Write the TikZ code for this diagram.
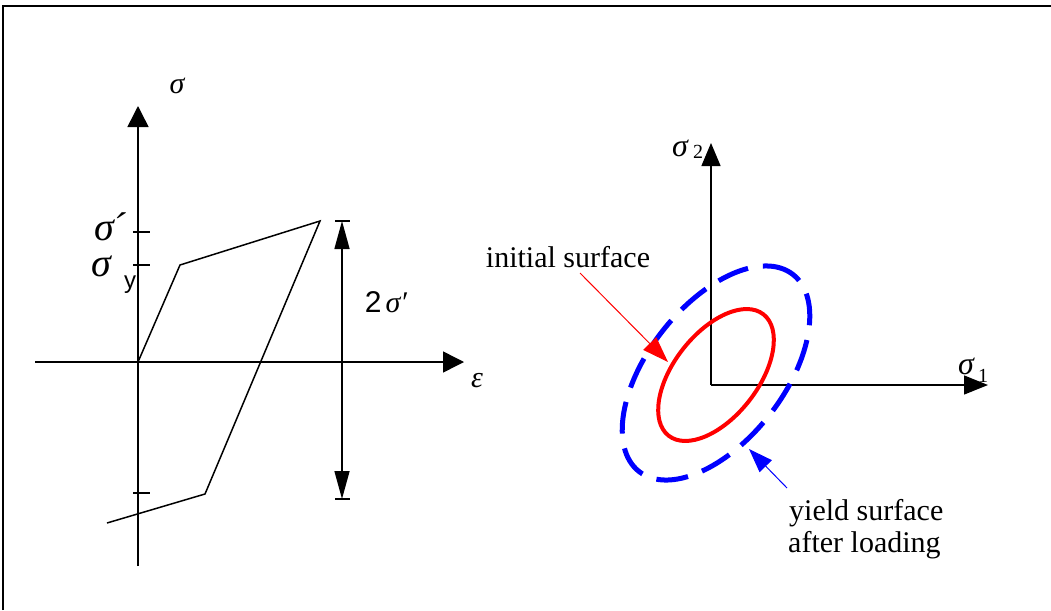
\documentclass[tikz,border=0pt]{standalone}
\usepackage{fontspec}
\setmainfont{Liberation Serif}
\newfontfamily\labsans{Liberation Sans}
\newfontfamily\grk{Liberation Serif}
\usetikzlibrary{arrows.meta}
\newcommand{\gs}{{\grk\itshape σ}}
\begin{document}
\begin{tikzpicture}[x=1pt,y=-1pt,
  axisline/.style={line width=1.5pt,-{Triangle[length=21pt,width=21pt]}},
  thinline/.style={line width=1.5pt},
  dimarrow/.style={line width=1.5pt,{Triangle[length=28pt,width=15pt]}-{Triangle[length=28pt,width=15pt]}},
  lbl/.style={inner sep=0pt},
  txt/.style={inner sep=0pt,font=\fontsize{30}{32}\selectfont},
  redell/.style={draw=red,line width=4pt},
  blueell/.style={draw=blue,line width=5pt,dash pattern=on 32pt off 15pt},
]
\useasboundingbox (0,0) rectangle (1051,610);
% frame
\coordinate (fa) at (3,610); \coordinate (fb) at (3,6); \coordinate (fc) at (1051,6);
\draw[line width=1.5pt] (fa) -- (fb) -- (fc);

% ---------- left diagram ----------
\coordinate (O) at (138,362);
\coordinate (sbot) at (138,566);
\coordinate (stop) at (138,106);
\coordinate (eleft) at (35,362);
\coordinate (eright) at (464,362);
\draw[axisline] (sbot) -- (stop);
\draw[axisline] (eleft) -- (eright);
% ticks
\coordinate (t1a) at (133,232); \coordinate (t1b) at (150,232);
\coordinate (t2a) at (133,265); \coordinate (t2b) at (150,265);
\coordinate (t3a) at (133,493); \coordinate (t3b) at (150,493);
\draw[thinline] (t1a) -- (t1b);
\draw[thinline] (t2a) -- (t2b);
\draw[thinline] (t3a) -- (t3b);
% hysteresis path
\coordinate (h1) at (180,265);
\coordinate (h2) at (320,221);
\coordinate (h3) at (205,494);
\coordinate (h4) at (107,523);
\draw[thinline,line join=miter] (O) -- (h1) -- (h2) -- (h3) -- (h4);
% double arrow 2 sigma'
\coordinate (da) at (342,221);
\coordinate (db) at (342,499);
\coordinate (ba1) at (335,221); \coordinate (ba2) at (350,221);
\coordinate (bb1) at (335,499); \coordinate (bb2) at (350,499);
\draw[thinline] (ba1) -- (ba2);
\draw[thinline] (bb1) -- (bb2);
\draw[dimarrow] (da) -- (db);
% labels
\node[lbl,font=\fontsize{30}{32}\selectfont] (lsig) at (177,86) {\gs};
\node[lbl,font=\fontsize{40}{42}\selectfont,anchor=base] (lsigp) at (110,240) {\gs\kern-2pt{\grk\itshape ´}};
\node[lbl,font=\fontsize{40}{42}\selectfont,anchor=base] (lsigy) at (101,276) {\gs};
\node[lbl,font=\labsans\fontsize{24}{26}\selectfont,anchor=base] (lsuby) at (130,288) {y};
\node[lbl,font=\fontsize{30}{32}\selectfont,anchor=base] (ltwo) at (386,312) {{\labsans 2}\kern4pt\gs{\grk\itshape ′}};
\node[lbl,font=\grk\itshape\fontsize{30}{32}\selectfont,anchor=base] (leps) at (477,387) {ε};

% ---------- right diagram ----------
\coordinate (O2) at (711,385);
\coordinate (s2top) at (711,143);
\coordinate (s1right) at (988,385);
\draw[line width=1.3pt,-{Triangle[length=23pt,width=19pt]}] (O2) -- (s2top);
\draw[line width=1.3pt,-{Triangle[length=24pt,width=19pt]}] (O2) -- (s1right);
\node[lbl,font=\fontsize{32}{34}\selectfont,anchor=base] (ls2) at (680,156) {\gs};
\node[lbl,font=\fontsize{20}{22}\selectfont,anchor=base] (ls2sub) at (698,158) {2};
\node[lbl,font=\fontsize{32}{34}\selectfont,anchor=base] (ls1) at (966,374) {\gs};
\node[lbl,font=\fontsize{20}{22}\selectfont,anchor=base] (ls1sub) at (983,382) {1};

% ellipses
\coordinate (C) at (716,375);
\draw[blueell,shift={(716,373)},rotate=52] (0,0) ellipse [x radius=125pt, y radius=68pt];
\draw[redell,shift={(716,375)},rotate=52] (0,0) ellipse [x radius=77pt, y radius=42pt];

% texts and pointers
\node[txt,anchor=base] (init) at (568,267) {initial surface};
\coordinate (ra) at (580,273);
\coordinate (rb) at (668,362);
\draw[red,line width=1pt,-{Triangle[length=26pt,width=18pt]}] (ra) -- (rb);

\node[txt,anchor=base west] (y1) at (789,520) {yield surface};
\node[txt,anchor=base west] (y2) at (788,552) {after loading};
\coordinate (bla) at (787,488);
\coordinate (blb) at (749,449);
\draw[blue,line width=1pt,-{Triangle[length=24pt,width=17pt]}] (bla) -- (blb);
\end{tikzpicture}
\end{document}
